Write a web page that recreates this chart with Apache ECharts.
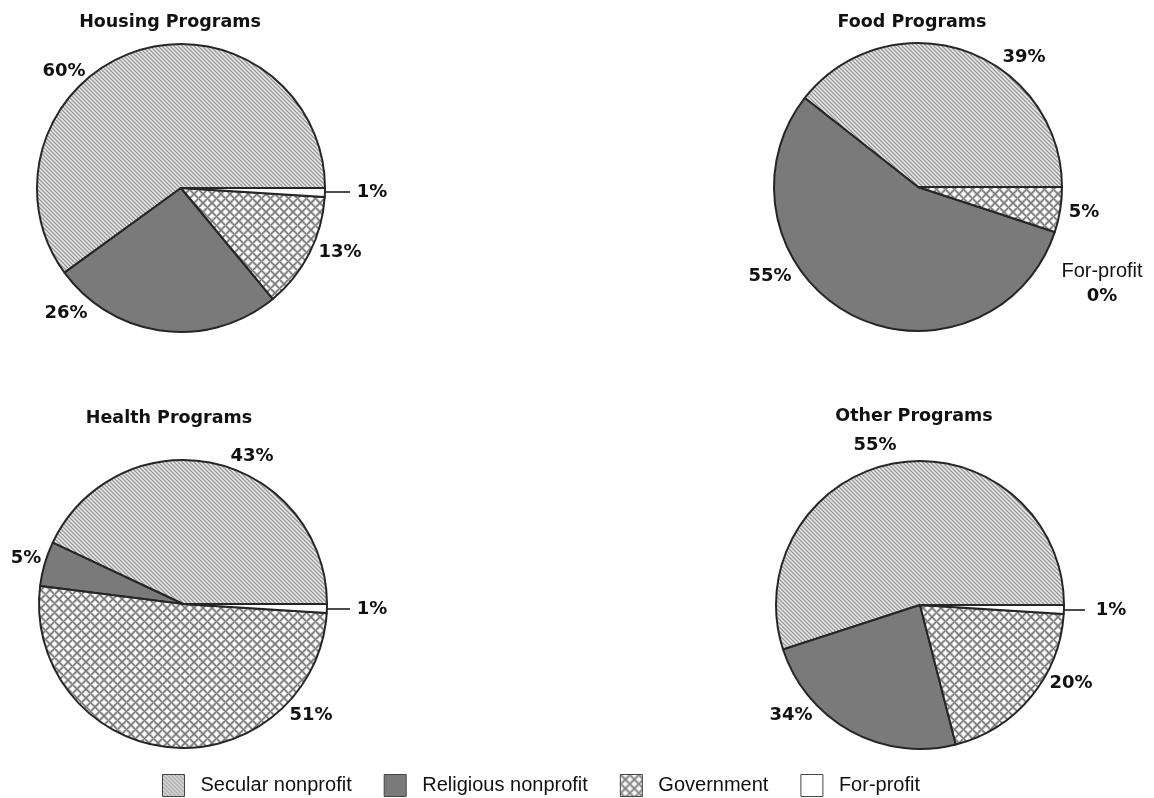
<!DOCTYPE html>
<html><head><meta charset="utf-8">
<script src="https://cdn.jsdelivr.net/npm/echarts@6/dist/echarts.min.js"></script>
<style>html,body{margin:0;padding:0;background:#fff}#c{width:1154px;height:798px}</style>
</head><body><div id="c"></div>
<script>
// ---- data ----
const categories = ['Secular nonprofit', 'Religious nonprofit', 'Government', 'For-profit'];
const titles = ['Housing Programs', 'Food Programs', 'Health Programs', 'Other Programs'];
const housingValues = [60, 26, 13, 1];
const housingLabels = ['60%', '26%', '13%', '1%'];
const foodValues = [39, 55, 5, 0];
const foodLabels = ['39%', '55%', '5%', '0%'];
const healthValues = [43, 5, 51, 1];
const healthLabels = ['43%', '5%', '51%', '1%'];
const otherValues = [55, 24, 20, 1];
const otherLabels = ['55%', '34%', '20%', '1%'];

// ---- patterns ----
function makeTile(size, fn) {
  const c = document.createElement('canvas');
  c.width = c.height = size;
  const ctx = c.getContext('2d');
  const img = ctx.createImageData(size, size);
  for (let y = 0; y < size; y++) for (let x = 0; x < size; x++) {
    const v = fn(x, y), i = (y * size + x) * 4;
    img.data[i] = img.data[i + 1] = img.data[i + 2] = v; img.data[i + 3] = 255;
  }
  ctx.putImageData(img, 0, 0);
  return c;
}
const secularTile = makeTile(4, (x, y) => { const d = ((x - y) % 4 + 4) % 4; return d === 0 ? 150 : (d === 2 ? 235 : 198); });
const govTile = makeTile(9, (x, y) => {
  const a = (x + y) % 9, b = ((x - y) % 9 + 9) % 9;
  const v = Math.min(a, 9 - a, b, 9 - b);
  return v === 0 ? 120 : (v === 1 ? 165 : (v === 2 ? 228 : 255));
});
const fills = [
  { image: secularTile, repeat: 'repeat' },
  '#7a7a7a',
  { image: govTile, repeat: 'repeat' },
  '#ffffff'
];

// ---- layout (positions / styles) ----
const panels = [
  { values: housingValues, labels: housingLabels, center: [181, 188], title: [165, 8],
    offsets: [[-117, -117], [-115, 125], [159, 64], [191, 4]], lines: [null, null, null, [126, 169, 4]] },
  { values: foodValues, labels: foodLabels, center: [918, 187], title: [907, 8],
    offsets: [[106, -130], [-148, 89], [166, 25], [184, 97]], lines: [null, null, null, null], nameAbove: [false, false, false, true] },
  { values: healthValues, labels: healthLabels, center: [183, 604], title: [164, 404],
    offsets: [[69, -148], [-157, -46], [128, 111], [189, 5]], lines: [null, null, null, [127, 167, 5]] },
  { values: otherValues, labels: otherLabels, center: [920, 605], title: [909, 402],
    offsets: [[-45, -160], [-129, 110], [151, 78], [191, 5]], lines: [null, null, null, [132, 165, 5]] }
];

const chart = echarts.init(document.getElementById('c'), null, { renderer: 'canvas' });
const option = {
  animation: false,
  backgroundColor: '#ffffff',
  title: panels.map((p, i) => ({
    text: titles[i], left: p.title[0], top: p.title[1], textAlign: 'center',
    textStyle: { fontFamily: 'DejaVu Sans', fontWeight: 'bold', fontSize: 17.5, color: '#111' }
  })),
  legend: {
    data: categories, left: 157, top: 769, orient: 'horizontal',
    icon: 'rect', itemWidth: 22, itemHeight: 22, itemGap: 32,
    itemStyle: { borderColor: '#444', borderWidth: 1 },
    textStyle: { fontFamily: 'Liberation Sans', fontSize: 20, color: '#111', padding: [0, 0, 0, 11] },
    selectedMode: false
  },
  series: panels.map((p, i) => ({
    type: 'pie', name: titles[i], center: p.center, radius: 144,
    startAngle: 0, clockwise: false, silent: true, avoidLabelOverlap: false,
    itemStyle: { borderColor: '#262626', borderWidth: 2 },
    emphasis: { disabled: true },
    data: categories.map((name, k) => ({
      name, value: p.values[k], itemStyle: { color: fills[k] },
      labelLine: { show: !!p.lines[k] }
    })),
    label: {
      show: true, position: 'outside',
      fontFamily: 'DejaVu Sans', fontWeight: 'bold', fontSize: 18, color: '#111',
      formatter: (params) => {
        const k = params.dataIndex;
        if (p.nameAbove && p.nameAbove[k]) return '{n|' + categories[k] + '}\n{b|' + p.labels[k] + '}';
        return p.labels[k];
      },
      rich: {
        n: { fontFamily: 'Liberation Sans', fontSize: 20, fontWeight: 'normal', color: '#111', lineHeight: 25, align: 'center' },
        b: { fontFamily: 'DejaVu Sans', fontSize: 18, fontWeight: 'bold', color: '#111', lineHeight: 25, align: 'center' }
      }
    },
    labelLine: { show: true, lineStyle: { color: '#111', width: 1.3 } },
    labelLayout: (params) => {
      const k = params.dataIndex, cx = p.center[0], cy = p.center[1];
      const o = p.offsets[k];
      const r = { x: cx + o[0], y: cy + o[1], align: 'center', verticalAlign: 'middle' };
      const ln = p.lines[k];
      if (ln) r.labelLinePoints = [[cx + ln[0], cy + ln[2]], [cx + ln[1], cy + ln[2]], [cx + ln[1], cy + ln[2]]];
      return r;
    }
  }))
};
chart.setOption(option);
</script>
</body></html>
